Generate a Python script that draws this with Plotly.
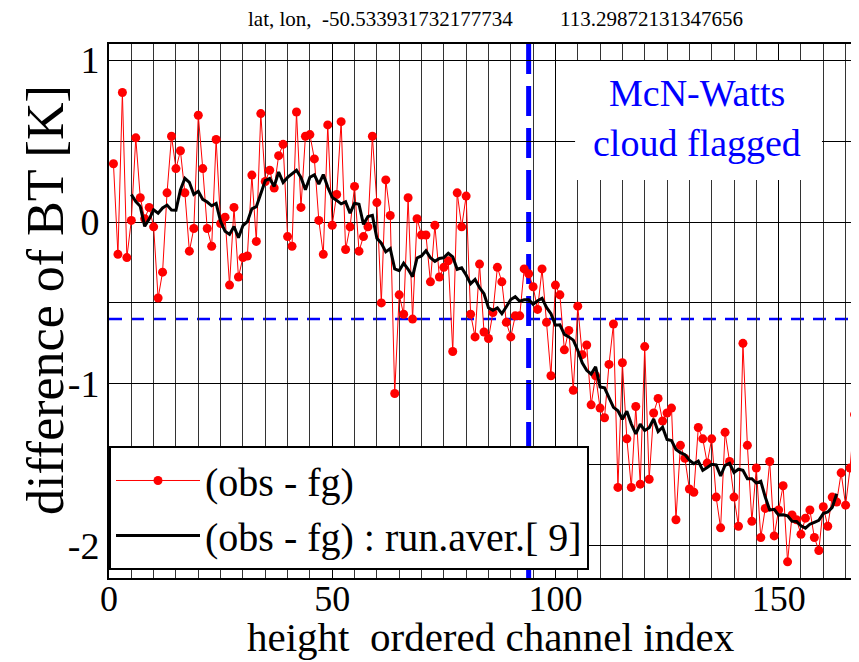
import numpy as np
import plotly.graph_objects as go

channel = list(range(1, 168))
obs_fg = [
    0.36, -0.20, 0.80, -0.22, 0.01, 0.52, 0.15, 0.02, 0.09, -0.03,
    -0.47, -0.31, 0.18, 0.53, 0.33, 0.44, 0.18, -0.18, -0.04, 0.66,
    0.33, -0.04, -0.15, 0.51, -0.01, 0.03, -0.39, 0.09, -0.34, -0.22,
    -0.21, 0.29, -0.12, 0.67, 0.25, 0.32, 0.21, 0.41, 0.48, -0.09,
    -0.15, 0.68, 0.09, 0.53, 0.54, 0.39, 0.01, -0.20, 0.60, -0.02,
    0.17, 0.62, -0.17, -0.03, 0.22, -0.18, -0.09, -0.03, 0.53, 0.12,
    -0.50, 0.26, 0.04, -1.06, -0.45, -0.57, 0.15, -0.60, 0.02, -0.08,
    -0.08, -0.37, -0.02, -0.34, -0.28, -0.24, -0.80, 0.18, -0.03, 0.16,
    -0.57, -0.71, -0.26, -0.68, -0.72, -0.56, -0.28, -0.37, -0.62, -0.71,
    -0.58, -0.58, -0.29, -0.32, -0.40, -0.54, -0.29, -0.62, -0.95, -0.39,
    -0.45, -0.79, -0.67, -1.04, -0.52, -0.82, -0.76, -1.13, -0.95, -1.15,
    -1.21, -0.88, -0.63, -1.64, -0.87, -1.34, -1.64, -1.14, -1.62, -0.77,
    -1.59, -1.18, -1.09, -1.23, -1.18, -1.15, -1.84, -1.38, -1.46, -1.65,
    -1.67, -1.27, -1.34, -1.49, -1.34, -1.70, -1.89, -1.30, -1.48, -1.70,
    -1.88, -0.75, -1.38, -1.85, -1.52, -1.95, -1.77, -1.48, -1.94, -1.78,
    -1.63, -2.10, -1.81, -1.84, -1.93, -1.83, -1.78, -1.95, -2.03, -1.76,
    -1.88, -1.70, -1.73, -1.55, -1.75, -1.52, -1.19,
]
run_window = 9
cloud_channel = 94
threshold = -0.6

x_ticks = [0, 50, 100, 150]
y_ticks = [-2, -1, 0, 1]
y_ticktext = ["-2", "-1", "0", "1"]

# running average over 9 channels (as labelled in the legend)
half = run_window // 2
run_aver = np.convolve(np.array(obs_fg), np.ones(run_window) / run_window, mode="valid")
run_x = channel[half:len(channel) - half]

FONT = "Liberation Serif, Times New Roman, serif"

fig = go.Figure()
fig.add_trace(go.Scatter(
    x=channel, y=obs_fg, mode="lines+markers", name="(obs - fg)",
    line=dict(color="rgb(255,0,0)", width=1),
    marker=dict(color="rgb(255,0,0)", size=9),
))
fig.add_trace(go.Scatter(
    x=run_x, y=run_aver, mode="lines", name="(obs - fg) : run.aver.[ 9]",
    line=dict(color="black", width=3),
))

# threshold lines
fig.add_shape(type="line", xref="x", yref="paper", x0=cloud_channel, x1=cloud_channel,
              y0=0, y1=1, line=dict(color="rgb(0,0,255)", width=5, dash="30px,12px"),
              layer="between")
fig.add_shape(type="line", xref="paper", yref="y", x0=0, x1=1, y0=threshold, y1=threshold,
              line=dict(color="rgb(0,0,255)", width=2.5, dash="13px,9px"), layer="between")

# white box behind the flag text
fig.add_shape(type="rect", xref="x", yref="y", x0=104.4, x1=159.7, y0=0.26, y1=0.995,
              fillcolor="white", line=dict(width=0), layer="between")

fig.add_annotation(x=131.7, y=0.795, xref="x", yref="y", text="McN-Watts", showarrow=False,
                   font=dict(family=FONT, size=38, color="rgb(0,0,255)"))
fig.add_annotation(x=131.7, y=0.487, xref="x", yref="y", text="cloud flagged", showarrow=False,
                   font=dict(family=FONT, size=38, color="rgb(0,0,255)"))

fig.add_annotation(x=(380 - 109) / 750, y=1.047, xref="paper", yref="paper",
                   xanchor="center", yanchor="middle",
                   text="lat, lon,  -50.533931732177734", showarrow=False,
                   font=dict(family=FONT, size=21, color="black"))
fig.add_annotation(x=(651 - 109) / 750, y=1.047, xref="paper", yref="paper",
                   xanchor="center", yanchor="middle",
                   text="113.29872131347656", showarrow=False,
                   font=dict(family=FONT, size=21, color="black"))

# axis titles
fig.add_annotation(x=(45 - 109) / 750, y=(578 - 300) / 534, xref="paper", yref="paper",
                   xanchor="center", yanchor="middle", textangle=-90,
                   text="difference of BT [K]", showarrow=False,
                   font=dict(family=FONT, size=52, color="black"))
fig.add_annotation(x=(490 - 109) / 750, y=(578 - 637) / 534, xref="paper", yref="paper",
                   xanchor="center", yanchor="middle",
                   text="height  ordered channel index", showarrow=False,
                   font=dict(family=FONT, size=41, color="black"))

fig.update_layout(
    width=859, height=662,
    margin=dict(l=101, r=8, t=36, b=92),
    paper_bgcolor="white", plot_bgcolor="white",
    font=dict(family=FONT, color="black"),
    showlegend=True,
    legend=dict(x=0, y=0.015, xanchor="left", yanchor="bottom",
                bgcolor="white", bordercolor="black", borderwidth=2,
                font=dict(family=FONT, size=40, color="black"),
                itemwidth=84, tracegroupgap=0),
    xaxis=dict(range=[0, 168], tickvals=x_ticks, showgrid=True, gridcolor="black", gridwidth=1.2,
               minor=dict(dtick=5, tick0=0, showgrid=True, gridcolor="#333", gridwidth=1.2),
               showline=True, linecolor="black", linewidth=2, mirror=True, zeroline=False,
               tickfont=dict(family=FONT, size=36), ticks="", ticklabelstandoff=-12,
               automargin=False),
    yaxis=dict(range=[-2.2, 1.1], tickvals=y_ticks, ticktext=y_ticktext, showgrid=True,
               gridcolor="black", gridwidth=1.2,
               minor=dict(dtick=0.5, tick0=0, showgrid=True, gridcolor="black", gridwidth=1.2),
               showline=True, linecolor="black", linewidth=2, mirror=True, zeroline=False,
               tickfont=dict(family=FONT, size=38), ticks="",
               automargin=False),
)

fig.write_html("out.html")
